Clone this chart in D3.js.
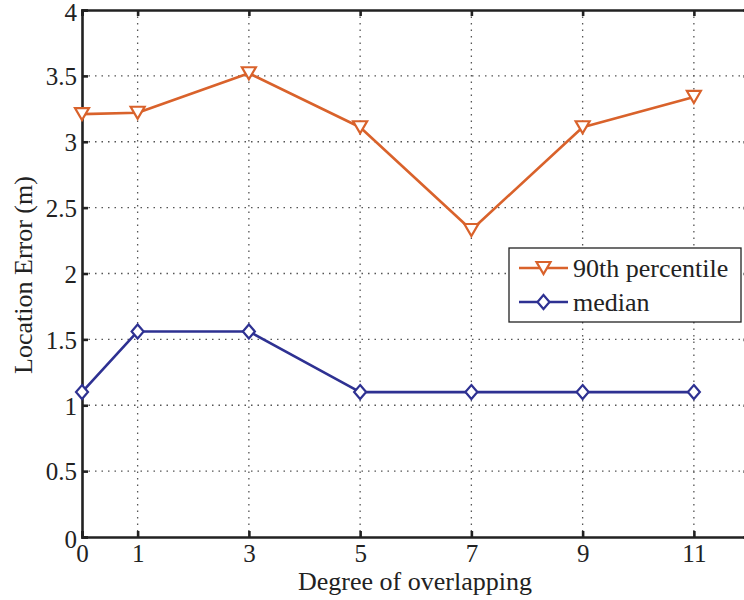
<!DOCTYPE html>
<html>
<head>
<meta charset="utf-8">
<script src="https://cdn.jsdelivr.net/npm/d3@7"></script>
<style>
  html, body { margin: 0; padding: 0; background: #fff; }
  svg { display: block; }
  text { font-family: "Liberation Serif", "Times New Roman", serif; fill: #222; }
</style>
</head>
<body>
<svg id="chart" width="744" height="600"></svg>
<script>
// Degree of overlapping (x) and location error in metres
const degrees = [0, 1, 3, 5, 7, 9, 11];
const p90Values = [3.21, 3.22, 3.52, 3.11, 2.33, 3.11, 3.34];
const medianValues = [1.10, 1.56, 1.56, 1.10, 1.10, 1.10, 1.10];
const xTicks = [0, 1, 3, 5, 7, 9, 11];
const yTicks = [0, 0.5, 1, 1.5, 2, 2.5, 3, 3.5, 4];
const seriesNames = ["90th percentile", "median"];

(function () {
const svg = d3.select("#chart");
const plotL = 82, plotT = 10, plotR = 749.5, plotB = 537;
const fontSize = 26, tickFont = 25;

const x = d3.scaleLinear().domain([0, 12]).range([plotL, plotR]);
const y = d3.scaleLinear().domain([0, 4]).range([plotB, plotT]);

const axisColor = "#222";
const gridColor = "#555";

// dotted grid
const grid = svg.append("g");
grid.selectAll(".vg").data(xTicks.filter(d => d > 0)).join("line")
  .attr("x1", d => x(d)).attr("x2", d => x(d))
  .attr("y1", plotT).attr("y2", plotB)
  .attr("stroke", gridColor).attr("stroke-width", 1.3)
  .attr("stroke-dasharray", "1.5,5");
grid.selectAll(".hg").data(yTicks.filter(d => d > 0 && d < 4)).join("line")
  .attr("x1", plotL).attr("x2", plotR)
  .attr("y1", d => y(d)).attr("y2", d => y(d))
  .attr("stroke", gridColor).attr("stroke-width", 1.3)
  .attr("stroke-dasharray", "1.5,5");

// axes: ticks drawn inward, box on all sides
const tickLen = 6;
const axBottom = svg.append("g").attr("transform", `translate(0,${plotB})`)
  .call(d3.axisBottom(x).tickValues(xTicks).tickSize(-tickLen).tickPadding(25).tickFormat(d3.format("d")));
const axTop = svg.append("g").attr("transform", `translate(0,${plotT})`)
  .call(d3.axisTop(x).tickValues(xTicks).tickSize(-tickLen).tickFormat(""));
const axLeft = svg.append("g").attr("transform", `translate(${plotL},0)`)
  .call(d3.axisLeft(y).tickValues(yTicks).tickSize(-tickLen).tickPadding(5).tickFormat(d => d3.format("")(d)));
const axRight = svg.append("g").attr("transform", `translate(${plotR},0)`)
  .call(d3.axisRight(y).tickValues(yTicks).tickSize(-tickLen).tickFormat(""));

[axBottom, axTop, axLeft, axRight].forEach(g => {
  g.select(".domain").attr("stroke", axisColor).attr("stroke-width", 2.6);
  g.selectAll(".tick line").attr("stroke", axisColor).attr("stroke-width", 2.6);
  g.selectAll(".tick text").attr("font-size", tickFont).attr("fill", "#222")
    .style("font-family", '"Liberation Serif", serif');
});
axBottom.selectAll(".tick text").attr("dy", "0");
axLeft.selectAll(".tick text").attr("dy", "0.35em");
axLeft.selectAll(".tick").filter(d => d === 0 || d === 4).select("text").attr("dy", "0.4em");

// series
const orange = "#D9622B";
const blue = "#2E3192";
const line = d3.line().x(d => x(d[0])).y(d => y(d[1]));

const triPath = "M-7,-6 L7,-6 L0,6 Z";
const diaPath = "M0,-7 L6,0 L0,7 L-6,0 Z";

function drawSeries(values, color, markerPath) {
  const pts = degrees.map((d, i) => [d, values[i]]);
  svg.append("path").datum(pts).attr("d", line)
    .attr("fill", "none").attr("stroke", color).attr("stroke-width", 2.6)
    .attr("stroke-linejoin", "round");
  svg.append("g").selectAll("path").data(pts).join("path")
    .attr("transform", d => `translate(${x(d[0])},${y(d[1])})`)
    .attr("d", markerPath)
    .attr("fill", "#fff").attr("stroke", color).attr("stroke-width", 2.2);
}
drawSeries(p90Values, orange, triPath);
drawSeries(medianValues, blue, diaPath);

// axis titles
svg.append("text")
  .attr("x", 415).attr("y", 590)
  .attr("text-anchor", "middle").attr("font-size", fontSize)
  .text("Degree of overlapping");
svg.append("text")
  .attr("transform", "translate(32,275) rotate(-90)")
  .attr("text-anchor", "middle").attr("font-size", fontSize)
  .text("Location Error (m)");

// legend
const legend = svg.append("g");
legend.append("rect")
  .attr("x", 509).attr("y", 248).attr("width", 232).attr("height", 74)
  .attr("fill", "#fff").attr("stroke", axisColor).attr("stroke-width", 1.3);
const items = [
  { name: seriesNames[0], color: orange, marker: triPath, cy: 268 },
  { name: seriesNames[1], color: blue, marker: diaPath, cy: 302 }
];
items.forEach(it => {
  legend.append("line").attr("x1", 519).attr("x2", 568)
    .attr("y1", it.cy).attr("y2", it.cy)
    .attr("stroke", it.color).attr("stroke-width", 2.6);
  legend.append("path").attr("transform", `translate(543.5,${it.cy})`)
    .attr("d", it.marker).attr("fill", "#fff")
    .attr("stroke", it.color).attr("stroke-width", 2.2);
  legend.append("text").attr("x", 573).attr("y", it.cy).attr("dy", "0.33em")
    .attr("font-size", fontSize).text(it.name);
});
})();
</script>
</body>
</html>
